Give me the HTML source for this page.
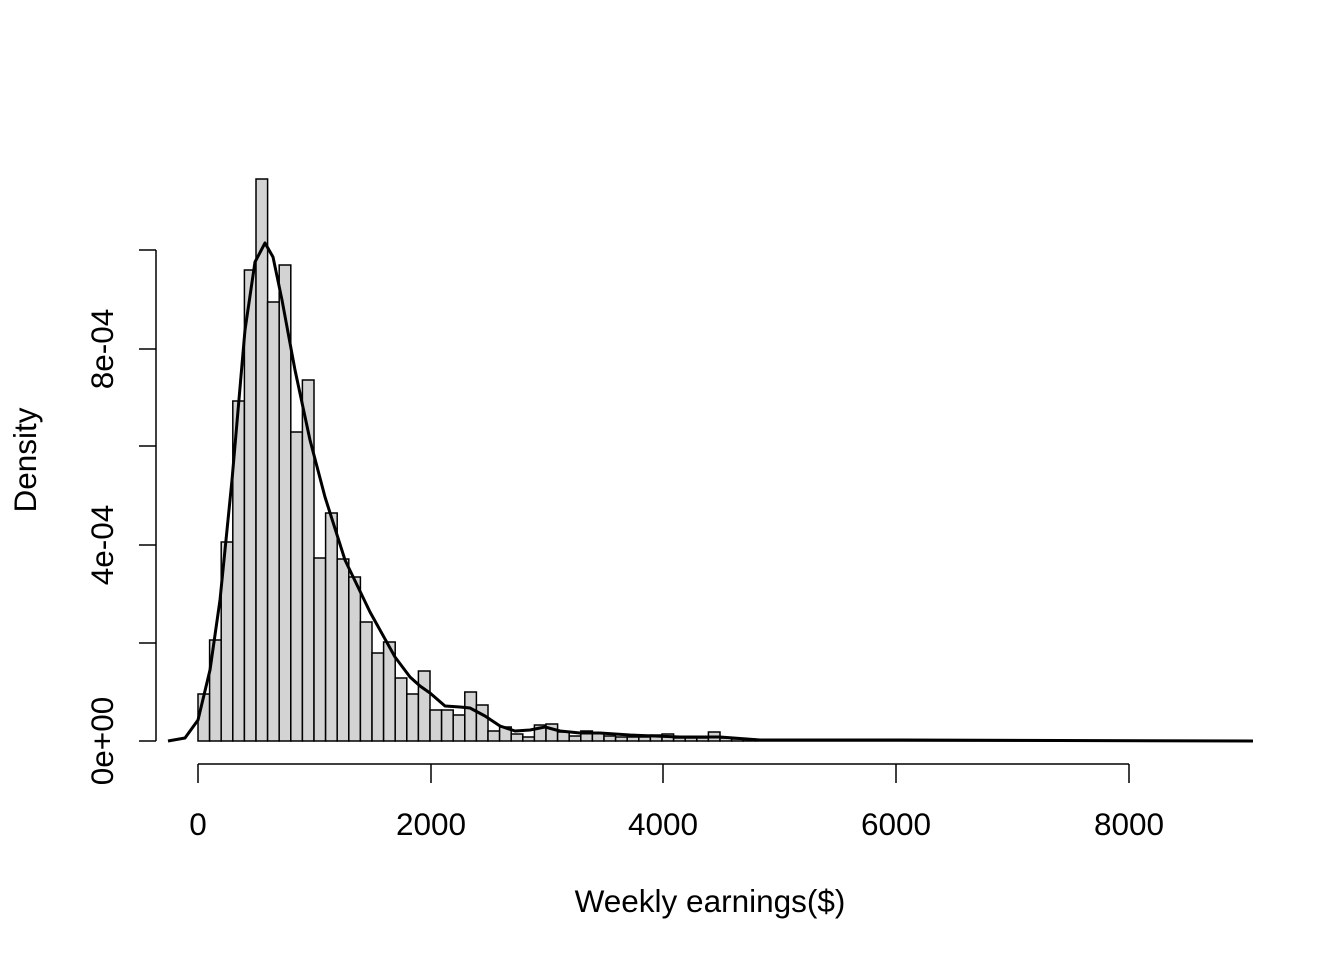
<!DOCTYPE html>
<html><head><style>body{margin:0;background:#fff}svg{display:block}text{font-family:"Liberation Sans",Arial,sans-serif;fill:#000}</style></head>
<body>
<svg width="1344" height="960" viewBox="0 0 1344 960">
<g fill="#d3d3d3" stroke="#000" stroke-width="1.5">
<rect x="198" y="694" width="11.6" height="47"/>
<rect x="209.6" y="640" width="11.6" height="101"/>
<rect x="221.2" y="542" width="11.6" height="199"/>
<rect x="232.8" y="401" width="11.6" height="340"/>
<rect x="244.4" y="270" width="11.6" height="471"/>
<rect x="256" y="179" width="11.6" height="562"/>
<rect x="267.6" y="302" width="11.6" height="439"/>
<rect x="279.2" y="265" width="11.6" height="476"/>
<rect x="290.8" y="432" width="11.6" height="309"/>
<rect x="302.4" y="380" width="11.6" height="361"/>
<rect x="314" y="558" width="11.6" height="183"/>
<rect x="325.6" y="513" width="11.6" height="228"/>
<rect x="337.2" y="559" width="11.6" height="182"/>
<rect x="348.8" y="577" width="11.6" height="164"/>
<rect x="360.4" y="622" width="11.6" height="119"/>
<rect x="372" y="653" width="11.6" height="88"/>
<rect x="383.6" y="642" width="11.6" height="99"/>
<rect x="395.2" y="678" width="11.6" height="63"/>
<rect x="406.8" y="694" width="11.6" height="47"/>
<rect x="418.4" y="671" width="11.6" height="70"/>
<rect x="430" y="710" width="11.6" height="31"/>
<rect x="441.6" y="710" width="11.6" height="31"/>
<rect x="453.2" y="715" width="11.6" height="26"/>
<rect x="464.8" y="692" width="11.6" height="49"/>
<rect x="476.4" y="705" width="11.6" height="36"/>
<rect x="488" y="731" width="11.6" height="10"/>
<rect x="499.6" y="727" width="11.6" height="14"/>
<rect x="511.2" y="734" width="11.6" height="7"/>
<rect x="522.8" y="737" width="11.6" height="4"/>
<rect x="534.4" y="725" width="11.6" height="16"/>
<rect x="546" y="724" width="11.6" height="17"/>
<rect x="557.6" y="732" width="11.6" height="9"/>
<rect x="569.2" y="736" width="11.6" height="5"/>
<rect x="580.8" y="731" width="11.6" height="10"/>
<rect x="592.4" y="733" width="11.6" height="8"/>
<rect x="604" y="736" width="11.6" height="5"/>
<rect x="615.6" y="737" width="11.6" height="4"/>
<rect x="627.2" y="737" width="11.6" height="4"/>
<rect x="638.8" y="737" width="11.6" height="4"/>
<rect x="650.4" y="735" width="11.6" height="6"/>
<rect x="662" y="734" width="11.6" height="7"/>
<rect x="673.6" y="738" width="11.6" height="3"/>
<rect x="685.2" y="738" width="11.6" height="3"/>
<rect x="696.8" y="738" width="11.6" height="3"/>
<rect x="708.4" y="732" width="11.6" height="9"/>
<rect x="720" y="738" width="11.6" height="3"/>
<rect x="731.6" y="739" width="11.6" height="2"/>
<rect x="743.2" y="739" width="11.6" height="2"/>
</g>
<line x1="755" y1="741" x2="1253" y2="741" stroke="#000" stroke-width="1.5"/>
<path d="M168,741 L185,738 L198,720 L210,670 L220,600 L232,480 L245,330 L255,262 L265,243 L273,257 L282,300 L295,370 L310,440 L325,497 L345,560 L370,612 L395,657 L410,677 L420,686 L430,693 L445,706 L460,707 L470,708 L485,716 L500,726 L515,731 L530,730 L545,727 L560,731 L580,733 L600,733 L630,735 L680,737 L720,737 L760,740 L800,740 L900,740 L1253,741" fill="none" stroke="#000" stroke-width="3" stroke-linejoin="round"/>
<g stroke="#000" stroke-width="1.5">
<line x1="156" y1="250" x2="156" y2="741"/>
<line x1="139" y1="250" x2="156" y2="250"/>
<line x1="139" y1="349" x2="156" y2="349"/>
<line x1="139" y1="446" x2="156" y2="446"/>
<line x1="139" y1="545" x2="156" y2="545"/>
<line x1="139" y1="643" x2="156" y2="643"/>
<line x1="139" y1="741" x2="156" y2="741"/>
<line x1="198" y1="764" x2="1129" y2="764"/>
<line x1="198" y1="764" x2="198" y2="783"/>
<line x1="431" y1="764" x2="431" y2="783"/>
<line x1="663" y1="764" x2="663" y2="783"/>
<line x1="896" y1="764" x2="896" y2="783"/>
<line x1="1129" y1="764" x2="1129" y2="783"/>
</g>
<g font-size="31.5" text-anchor="middle">
<text x="198" y="835">0</text>
<text x="431" y="835">2000</text>
<text x="663" y="835">4000</text>
<text x="896" y="835">6000</text>
<text x="1129" y="835">8000</text>
<text x="710" y="912">Weekly earnings($)</text>
<text transform="translate(113,741) rotate(-90)">0e+00</text>
<text transform="translate(113,545) rotate(-90)">4e-04</text>
<text transform="translate(113,349) rotate(-90)">8e-04</text>
<text transform="translate(36,460) rotate(-90)">Density</text>
</g>
</svg>
</body></html>
